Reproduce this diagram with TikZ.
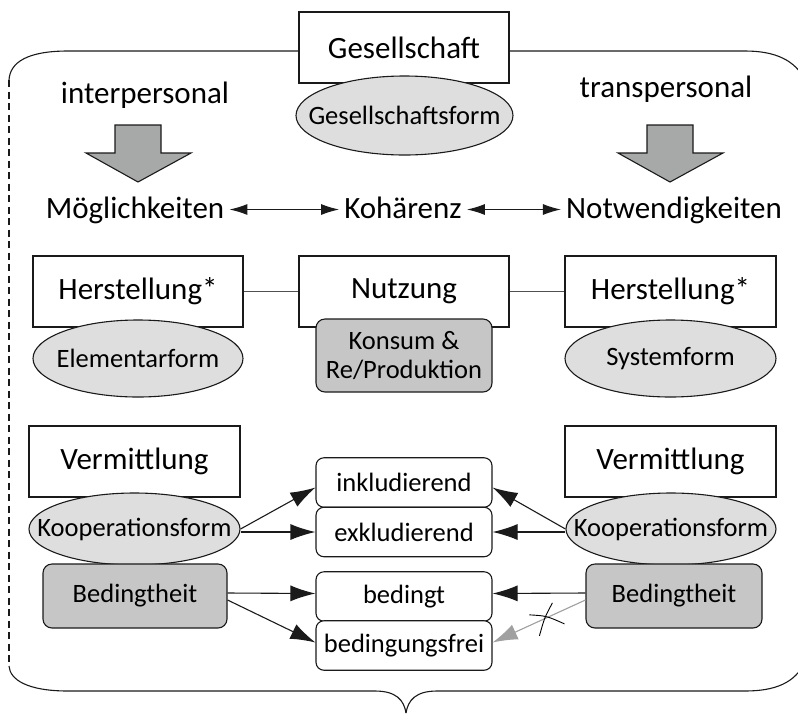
\documentclass[tikz,border=0pt]{standalone}
\usepackage{fontspec}
\setmainfont{Carlito}
\usetikzlibrary{shapes.geometric,arrows.meta,calc}
\definecolor{ellfill}{HTML}{DEDEDE}
\definecolor{boxfill}{HTML}{C6C6C6}
\definecolor{bigarrow}{HTML}{A7A9A9}
\definecolor{edge}{HTML}{1A1A1A}
\definecolor{conn}{HTML}{505050}
\definecolor{grayarr}{HTML}{A0A0A0}
\newcommand{\zw}[1]{\makebox[0pt]{#1}}
\begin{document}
\begin{tikzpicture}[x=1pt,y=-1pt,
  bigtxt/.style={font=\fontsize{31}{34}\selectfont},
  smalltxt/.style={font=\fontsize{26.5}{29}\selectfont},
  box/.style={draw=edge, line width=1.1pt, fill=white, minimum width=210pt, minimum height=71pt, inner sep=0pt, bigtxt},
  ell/.style={ellipse, draw=edge, line width=1.1pt, fill=ellfill, inner sep=0pt, smalltxt},
  gbox/.style={rectangle, rounded corners=9pt, draw=edge, line width=1.1pt, fill=boxfill, inner sep=0pt, smalltxt, align=center},
  wbox/.style={rectangle, rounded corners=8pt, draw=edge, line width=1.1pt, fill=white, minimum width=176pt, minimum height=49.5pt, inner sep=0pt, smalltxt},
  word/.style={bigtxt, inner xsep=5pt, inner ysep=0pt, anchor=base},
  arr/.style={-{Latex[length=25pt,width=16pt]}, line width=1.1pt, draw=edge},
  arrsmall/.style={{Latex[length=18pt,width=11pt]}-{Latex[length=18pt,width=11pt]}, line width=1.1pt, draw=edge},
  outl/.style={line width=1.1pt, draw=edge},
  bigarr/.style={draw=edge, line width=1.1pt, fill=bigarrow, line join=miter}
]
\useasboundingbox (0,0) rectangle (798,713);
\clip (0,0) rectangle (798,713);

% top
\node[box] (ges) at (404,47.5) {Gesellschaft};
\node[ell, minimum width=217pt, minimum height=79pt] (gesform) at (404.5,115.5) {\zw{Gesellschaftsform}};

% outline brace
\draw[outl] ([yshift=-3.5pt]ges.west) -- (68,51) .. controls (28,51) and (10,62) .. (9,80);
\draw[outl, dash pattern=on 7pt off 4.5pt] (9,80) -- (9,666);
\draw[outl] (9,666) .. controls (10,680) and (28,691) .. (68,691) -- (375,691) .. controls (396,691) and (404,700) .. (406,713);
\draw[outl] (406,713) .. controls (408,700) and (416,691) .. (437,691) -- (745,691) .. controls (775,691) and (795,683) .. (805,662);
\draw[outl] ([yshift=-3.5pt]ges.east) -- (745,51) .. controls (775,51) and (795,60) .. (805,80);

\node[bigtxt, anchor=base, inner sep=0pt] (inter) at (145,103) {interpersonal};
\node[bigtxt, anchor=base, inner sep=0pt] (trans) at (666,97) {transpersonal};

% big arrows
\draw[bigarr] (115,125) -- (161,125) -- (161,153) -- (191,153) -- (138,182) -- (86,153) -- (115,153) -- cycle;
\draw[bigarr] (647,125) -- (693,125) -- (693,153) -- (723,153) -- (670,182) -- (618,153) -- (647,153) -- cycle;

% words row
\node[word] (moeg) at (135,218) {Möglichkeiten};
\node[word] (koh) at (403,218) {Kohärenz};
\node[word] (notw) at (674,218) {Notwendigkeiten};
\draw[arrsmall] ([yshift=8.5pt]moeg.base east) -- ([yshift=8.5pt]koh.base west);
\draw[arrsmall] ([yshift=8.5pt]koh.base east) -- ([yshift=8.5pt]notw.base west);

% second row
\node[box] (h1) at (138,291.5) {Herstellung*};
\node[box] (nutz) at (404,291.5) {Nutzung};
\node[box, minimum width=211pt] (h2) at (670.5,291.5) {Herstellung*};
\draw[line width=1.1pt, conn] (h1.east) -- (nutz.west);
\draw[line width=1.1pt, conn] (nutz.east) -- (h2.west);
\node[ell, minimum width=210pt, minimum height=77pt] (elem) at (138,358.5) {\zw{Elementarform}};
\node[ell, minimum width=211pt, minimum height=77pt] (sysf) at (670.5,358.5) {\zw{Systemform}};
\node[gbox, minimum width=176pt, minimum height=73pt] (kons) at (404,355.5) {Konsum \&\\Re/Produktion};

% third row
\node[box, minimum width=211pt] (v1) at (134.5,461.5) {Vermittlung};
\node[box, minimum width=211pt] (v2) at (670.5,461.5) {Vermittlung};
\node[ell, minimum width=211pt, minimum height=72pt] (koop1) at (134.5,529) {\zw{Kooperationsform}};
\node[ell, minimum width=210pt, minimum height=72pt] (koop2) at (671,529) {\zw{Kooperationsform}};
\node[gbox, minimum width=184pt, minimum height=64pt] (bed1) at (135,596) {Bedingtheit};
\node[gbox, minimum width=176pt, minimum height=64pt] (bed2) at (674,596) {Bedingtheit};

% middle boxes
\node[wbox] (incl) at (404,482.5) {inkludierend};
\node[wbox] (excl) at (404,532) {exkludierend};
\node[wbox] (bed) at (404,596.5) {bedingt};
\node[wbox] (bfrei) at (404,645.5) {bedingungsfrei};

% arrows
\draw[arr] (koop1.east) -- ($(incl.west)+(0,5)$);
\draw[arr] (koop1.east |- excl.west) -- (excl.west);
\draw[arr] ($(bed1.east)+(0,-3)$) -- ($(bed.west)+(0,-3)$);
\draw[arr] ($(bed1.east)+(0,4)$) -- ($(bfrei.west)+(0,-3)$);
\draw[arr] (koop2.west) -- ($(incl.east)+(0,5)$);
\draw[arr] (koop2.west |- excl.east) -- (excl.east);
\draw[arr] ($(bed2.west)+(0,-3)$) -- ($(bed.east)+(0,-3)$);
\draw[arr, draw=grayarr, fill=grayarr] ($(bed2.west)+(0,4)$) coordinate (gs) -- ($(bfrei.east)+(0,-3)$) coordinate (ge);
\coordinate (cross) at ($(gs)!0.42!(ge)$);
\draw[line width=0.9pt, black] ($(cross)+(-17,-3)$) .. controls ($(cross)+(0,-2)$) .. ($(cross)+(18,6)$);
\draw[line width=0.9pt, black] ($(cross)+(6,-15)$) .. controls ($(cross)+(-2,0)$) .. ($(cross)+(-7,18)$);
\end{tikzpicture}
\end{document}
